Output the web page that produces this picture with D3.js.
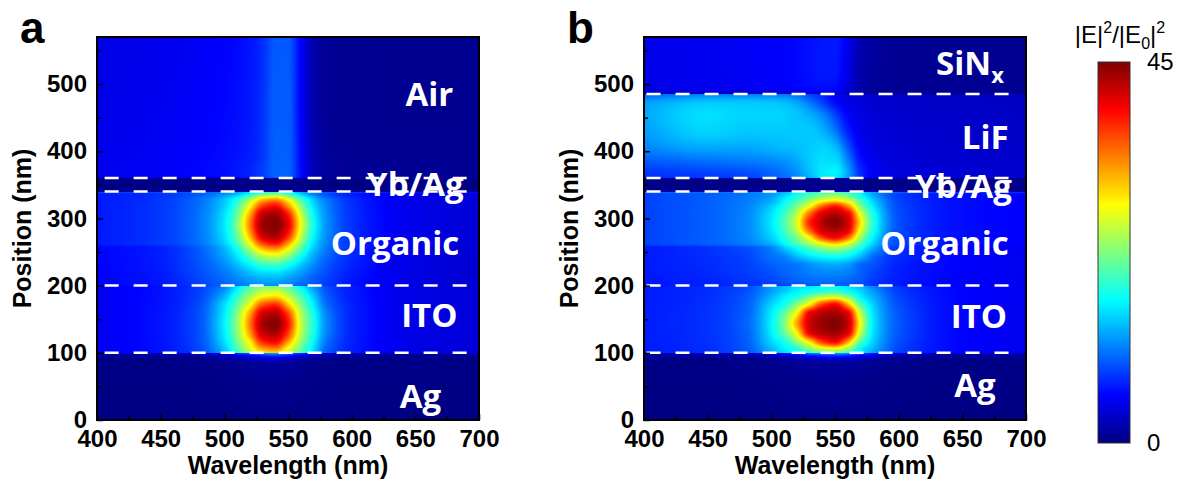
<!DOCTYPE html>
<html lang="en">
<head>
<meta charset="UTF-8">
<title>Field intensity maps</title>
<script src="https://cdn.jsdelivr.net/npm/d3@7"></script>
<style>
  html, body { margin: 0; padding: 0; background: #fff; }
  svg { display: block; }
  .axis text { font: bold 24px "Liberation Sans", Arial, sans-serif; fill: #000; }
  .axis path { display: none; }
  .axis line { stroke: #000; stroke-width: 1.5; }
  .title { font: bold 25px "Liberation Sans", Arial, sans-serif; fill: #000; }
  .panel-tag { font: bold 44px "Liberation Sans", Arial, sans-serif; fill: #000; }
  .layer { font: bold 33px "Open Sans", sans-serif; fill: #fff; }
  .cb-text { font: 24px "Liberation Sans", Arial, sans-serif; fill: #000; }
  .divider { stroke: #fff; stroke-width: 2.5; stroke-dasharray: 14 15; }
</style>
</head>
<body>
<svg id="svg" width="1180" height="486"></svg>
<script>
// ---- data ----
// wavelength columns shared by every layer table (nm)
var wavelengths = [400, 450, 480, 500, 510, 520, 530, 540, 550, 560, 570, 580, 600, 650, 700];

// colour bar |E|^2/|E0|^2 (jet)
var cbStops = [0, 5.625, 16.875, 28.125, 39.375, 45];
var cbColors = ["#000080", "#0000ff", "#00ffff", "#ffff00", "#ff0000", "#800000"];
var cbTicks = [0, 45];

// panel a : rows (position, nm) of each layer and |E|^2/|E0|^2 read per wavelength column
var aAgZ = [0, 85, 95, 100];
var aAg = [
  [0.2, 0.2, 0.2, 0.2, 0.2, 0.2, 0.2, 0.2, 0.2, 0.2, 0.2, 0.2, 0.2, 0.2, 0.2],
  [0.3, 0.3, 0.4, 0.6, 0.8, 1, 1.2, 1.3, 1.1, 0.8, 0.6, 0.4, 0.3, 0.3, 0.3],
  [1, 1, 1.3, 2.5, 3.5, 5, 6.5, 7, 6, 4, 2.5, 1.5, 1, 0.8, 0.8],
  [2.5, 3, 4, 6.5, 8.5, 11, 13, 14, 12, 8.5, 6, 4.5, 3, 2.5, 2.5]
];
var aItoZ = [100, 104, 115, 128, 143, 158, 172, 185, 195, 200];
var aIto = [
  [5.05, 6.35, 8.6, 13.6, 18.9, 24.2, 28.8, 29.9, 25.8, 20.3, 14.7, 9.8, 6.9, 4.5, 4],
  [5.05, 6.35, 8.65, 14.1, 19.6, 25.8, 31, 32.4, 26.9, 21.1, 15.3, 9.9, 6.9, 4.5, 4],
  [5.05, 6.4, 8.9, 15.3, 21.3, 28.2, 37.2, 39, 31.8, 23.2, 16.6, 10.7, 7, 4.5, 4],
  [5.05, 6.45, 9.1, 16.1, 22.7, 32.1, 41.4, 42.9, 36.6, 25.1, 17.7, 11.5, 7.1, 4.5, 4],
  [5.05, 6.45, 9.1, 16.5, 23.3, 33.8, 43.3, 44.85, 38.8, 25.9, 18.2, 11.8, 7.1, 4.5, 4],
  [5.05, 6.45, 9.1, 16.1, 22.7, 32.1, 41.4, 42.9, 36.6, 25.1, 17.7, 11.5, 7.1, 4.5, 4],
  [5.05, 6.4, 8.8, 15.4, 20.8, 27.4, 35.5, 37.3, 30.6, 22.6, 16.2, 10.5, 7, 4.5, 4],
  [5.05, 6.3, 8.55, 13.4, 18.6, 23.7, 27.7, 28.9, 25.2, 19.9, 14.5, 9.8, 6.8, 4.5, 4],
  [5.05, 6.3, 8.4, 11.9, 16.5, 20.8, 23.8, 24.4, 21.7, 17.6, 12.9, 9.2, 6.8, 4.5, 4],
  [5.05, 6.25, 8.3, 11.1, 15.5, 19.4, 21.9, 22.3, 20.2, 16.3, 12, 9.1, 6.8, 4.5, 4]
];
var aOrgZ = [200, 215, 230, 245, 257, 262, 275, 291, 305, 318, 328, 336, 340];
var aOrg = [
  [5.6, 6.55, 8.3, 9.9, 10.7, 11.3, 11.9, 11.9, 11.3, 10.1, 9.2, 8.1, 6.4, 4.4, 3.6],
  [5.6, 6.7, 8.8, 10.7, 12, 13.4, 14.4, 14.6, 13.5, 12, 10.1, 8.8, 6.7, 4.4, 3.6],
  [5.6, 6.85, 9.15, 11.7, 13.8, 16.3, 18.8, 19.2, 17.4, 14.4, 11.7, 9.5, 7.1, 4.45, 3.6],
  [5.65, 6.95, 9.5, 13, 16.1, 20.8, 25.5, 26.9, 23.5, 17.9, 13.3, 10.4, 7.4, 4.45, 3.6],
  [5.65, 7, 9.7, 13.8, 18.2, 25.2, 32.5, 34.7, 29.4, 21.4, 14.9, 11.2, 7.6, 4.45, 3.6],
  [6.65, 8.05, 10.5, 14.8, 19.5, 27.3, 35.8, 38.4, 32.2, 22.9, 15.4, 11.5, 7.6, 4.65, 3.8],
  [6.65, 8.1, 10.7, 15.6, 21.4, 31.4, 41.7, 43.5, 38.1, 26.1, 16.9, 12, 7.75, 4.65, 3.8],
  [6.6, 8.1, 10.8, 16, 22.5, 33.8, 43.6, 44.8, 40.5, 27.8, 17.6, 12.2, 7.8, 4.7, 3.8],
  [6.65, 8.1, 10.7, 15.7, 21.6, 32, 42.4, 43.8, 38.6, 26.5, 17, 12, 7.75, 4.65, 3.8],
  [6.65, 8.05, 10.55, 14.9, 19.7, 28, 37, 39.4, 33.2, 23.4, 15.7, 11.6, 7.65, 4.65, 3.8],
  [6.65, 8, 10.4, 14.3, 18, 24.2, 30.8, 33, 28, 20.5, 14.5, 11, 7.5, 4.65, 3.8],
  [6.6, 7.75, 9.5, 12, 14.1, 17.4, 21.2, 22.4, 19.4, 14.95, 11.4, 9.1, 6.7, 4.55, 3.8],
  [9.5, 9.5, 10, 11, 12.5, 15, 17, 17.5, 16.5, 13, 11, 10, 9, 8, 7.5]
];
var aYbZ = [340, 342, 358, 360];
var aYb = [
  [2, 2, 2, 2.2, 2.4, 2.8, 3.1, 3.2, 3.1, 2.8, 2.4, 2, 2, 1.8, 1.8],
  [0.3, 0.3, 0.3, 0.3, 0.35, 0.4, 0.45, 0.5, 0.45, 0.4, 0.3, 0.3, 0.3, 0.3, 0.3],
  [0.3, 0.3, 0.3, 0.3, 0.35, 0.4, 0.45, 0.5, 0.45, 0.4, 0.3, 0.3, 0.3, 0.3, 0.3],
  [1, 1, 1, 1.2, 1.4, 1.6, 1.8, 2, 1.9, 1.5, 1.1, 0.8, 0.6, 0.6, 0.6]
];
var aAirZ = [360, 365, 400, 480, 570];
var aAir = [
  [4, 4.3, 4.8, 5.3, 5.8, 6.8, 8, 9.5, 9.5, 5.8, 2.5, 1.5, 1, 0.9, 0.9],
  [5, 5.3, 5.8, 6.2, 6.6, 7.2, 8.3, 10, 10, 6, 2.5, 1.5, 1, 0.9, 0.9],
  [4.8, 5.2, 5.6, 6, 6.3, 6.8, 7.9, 9.8, 9.8, 5.8, 2.3, 1.2, 0.9, 0.8, 0.8],
  [4.6, 5, 5.4, 5.8, 6.1, 6.6, 7.7, 9.7, 9.7, 5.5, 2, 1, 0.8, 0.7, 0.7],
  [4.5, 4.8, 5.2, 5.6, 5.9, 6.4, 7.5, 9.5, 9.5, 5.5, 2, 1, 0.8, 0.7, 0.7]
];

// panel b
var bAgZ = [0, 85, 95, 100];
var bAg = [
  [0.2, 0.2, 0.2, 0.2, 0.2, 0.2, 0.2, 0.2, 0.2, 0.2, 0.2, 0.2, 0.2, 0.2, 0.2],
  [0.3, 0.3, 0.4, 0.6, 0.7, 0.9, 1.1, 1.2, 1.3, 1.2, 1, 0.8, 0.5, 0.3, 0.3],
  [1, 1, 1.3, 2.2, 3, 4, 5.5, 6.5, 7, 6.5, 5, 3.5, 2, 1, 1],
  [3, 3.3, 4, 6, 7, 9, 12, 13.5, 14, 13, 10, 8, 5, 3.3, 3]
];
var bItoZ = [100, 104, 116, 130, 144, 158, 172, 184, 193, 200];
var bIto = [
  [6.7, 7.6, 9.2, 13, 15.6, 17, 18.9, 21.6, 22.4, 19.6, 16.3, 12.8, 8.4, 5.7, 5],
  [6.7, 7.6, 9.4, 13.5, 16.1, 17.7, 21.5, 24.4, 25.3, 22.2, 16.4, 13.4, 8.6, 5.7, 5],
  [6.75, 7.7, 9.6, 15, 17.7, 22.9, 28.9, 36.6, 39.4, 31.9, 20.6, 14.7, 9, 5.7, 5],
  [6.8, 7.8, 9.8, 16.2, 21.2, 28.5, 40.3, 42.9, 43.5, 40.8, 25.7, 15.7, 9.4, 5.7, 5],
  [6.8, 7.8, 10, 16.5, 22.3, 32.1, 41.6, 44, 45, 42.4, 27.6, 16.05, 9.5, 5.7, 5],
  [6.8, 7.8, 9.8, 16.2, 21.2, 28.5, 40.3, 42.9, 43.5, 40.8, 25.7, 15.7, 9.4, 5.7, 5],
  [6.75, 7.7, 9.6, 15, 17.7, 22.9, 28.9, 36.6, 39.4, 31.9, 20.6, 14.7, 9, 5.7, 5],
  [6.7, 7.6, 9.4, 13.5, 16.1, 17.7, 21.5, 24.4, 25.3, 22.2, 16.4, 13.4, 8.6, 5.7, 5],
  [6.7, 7.6, 9, 12.5, 14.3, 16.2, 17.1, 18, 18.7, 16.9, 14.9, 12.2, 8.2, 5.7, 5],
  [6.7, 7.5, 8.8, 12.3, 13.8, 15, 15.85, 16.3, 16.35, 15.55, 13.6, 11.2, 7.8, 5.65, 5]
];
var bOrgZ = [200, 215, 230, 242, 252, 257, 262, 272, 282, 294, 306, 318, 328, 336, 340];
var bOrg = [
  [6.5, 7, 7.6, 8.2, 8.7, 9.1, 9.5, 9.7, 9.7, 9.4, 8.7, 7.8, 6.5, 5.4, 5],
  [6.6, 7.3, 8.1, 9, 9.8, 10.4, 10.9, 11.2, 11.2, 10.8, 9.8, 8.4, 6.9, 5.55, 5],
  [6.65, 7.5, 8.35, 9.7, 10.4, 10.8, 11.8, 12.7, 13, 12.3, 10.1, 9.1, 7, 5.6, 5],
  [6.7, 7.6, 8.5, 10.5, 11.2, 13.5, 15.4, 16.5, 17.1, 16, 13.5, 10.1, 7.4, 5.6, 5],
  [6.7, 7.7, 8.9, 11, 13.4, 16.1, 18.8, 20.8, 21.9, 20.2, 16.3, 12.3, 7.8, 5.6, 5],
  [6.7, 7.7, 9.1, 11.2, 14.5, 17.3, 20.6, 23.8, 25.1, 23.1, 18.1, 13.3, 8, 5.6, 5],
  [8.5, 9.8, 11.1, 13.5, 16.5, 20, 23.7, 27.3, 29.9, 26.5, 20.3, 14.8, 8.6, 6.1, 5.5],
  [8.5, 9.8, 11.4, 14.8, 18.1, 22.5, 28.6, 36.9, 39.8, 35.4, 24, 16.4, 8.9, 6.1, 5.5],
  [8.5, 9.8, 11.5, 15.7, 19.5, 25.3, 34.9, 41.2, 42.7, 40.4, 27.2, 17.9, 9, 6.1, 5.5],
  [8.5, 9.8, 11.6, 16, 20.2, 26.5, 37.9, 42.5, 44.8, 41.6, 29.4, 18.6, 9.1, 6.1, 5.5],
  [8.5, 9.8, 11.5, 15.7, 19.5, 25.3, 34.9, 41.2, 42.7, 40.4, 27.2, 17.9, 9, 6.1, 5.5],
  [8.5, 9.8, 11.3, 14.6, 17.9, 22.1, 28, 35.2, 38.6, 33.5, 23, 16.1, 8.8, 6.1, 5.5],
  [8.5, 9.75, 11.1, 13.1, 16.2, 19.3, 22.8, 26.1, 27.6, 25.3, 19.5, 14.5, 8.5, 6.1, 5.5],
  [8.5, 9.7, 10.75, 12.4, 14.5, 17.1, 19.6, 21.4, 22.4, 20.7, 16.8, 12.8, 8.2, 6.1, 5.5],
  [11, 11, 11.5, 12.5, 13.5, 15, 17, 19, 19.5, 19, 16, 13, 11, 9.5, 9]
];
var bYbZ = [340, 342, 358, 360];
var bYb = [
  [2.5, 2.5, 2.5, 2.8, 2.9, 3.1, 3.3, 3.6, 3.8, 3.6, 3.2, 3, 2.5, 2, 2],
  [0.4, 0.4, 0.4, 0.4, 0.45, 0.5, 0.55, 0.6, 0.6, 0.55, 0.5, 0.4, 0.4, 0.4, 0.4],
  [0.4, 0.4, 0.4, 0.4, 0.45, 0.5, 0.55, 0.6, 0.6, 0.55, 0.5, 0.4, 0.4, 0.4, 0.4],
  [1.5, 1.6, 1.7, 1.9, 2, 2.3, 2.7, 3, 3.2, 2.8, 2, 1.2, 1, 0.9, 0.9]
];
var bLifZ = [360, 368, 385, 405, 430, 455, 472, 485];
var bLif = [
  [7.5, 8, 8.5, 9.5, 10.3, 11.5, 13.5, 15.5, 16, 12.5, 7.5, 5.2, 4.3, 3.8, 3.6],
  [8, 8.5, 9, 10, 10.8, 12, 14, 16, 16.5, 13, 7.5, 5.2, 4.2, 3.7, 3.5],
  [9.5, 10.5, 11, 11.5, 12, 13, 14.5, 15.5, 15.5, 11.5, 6.5, 4.8, 4, 3.5, 3.3],
  [11.5, 13, 13, 13.5, 13.8, 14, 14.5, 15, 14, 9.5, 5.5, 4.3, 3.8, 3.4, 3.2],
  [12.5, 15, 14.5, 14.5, 14.5, 14.5, 14.5, 13.5, 11, 7, 4.8, 4, 3.6, 3.3, 3.1],
  [13, 15.5, 15, 15, 14.8, 14.3, 13.3, 11.5, 8.5, 5.5, 4.3, 3.8, 3.5, 3.2, 3],
  [12.5, 14.5, 14.5, 14.3, 14, 13, 11, 8.5, 6, 4.6, 4, 3.6, 3.4, 3.1, 3],
  [9.5, 11, 11, 11, 10.8, 10, 8.5, 7, 5.2, 4.2, 3.8, 3.5, 3.2, 3, 3]
];
var bSinZ = [485, 492, 530, 570];
var bSin = [
  [2, 2, 2, 2.2, 2.2, 2.4, 2.5, 2.5, 2.4, 1.8, 1, 0.8, 0.6, 0.6, 0.6],
  [4.5, 4.8, 5, 5.2, 5.3, 5.6, 5.8, 6, 5.8, 4, 1.8, 1.2, 0.9, 0.8, 0.8],
  [4.8, 5, 5.2, 5.5, 5.6, 5.9, 6.2, 6.6, 6.6, 4.5, 2, 1.3, 0.9, 0.8, 0.8],
  [4.8, 5, 5.2, 5.5, 5.6, 5.9, 6.2, 6.6, 6.8, 5, 2.2, 1.5, 1, 0.8, 0.8]
];

// interface positions (dashed lines) and layer names
var dividersA = [100, 200, 340, 360];
var dividersB = [100, 200, 340, 360, 485];
var namesA = ["Air", "Yb/Ag", "Organic", "ITO", "Ag"];
var namesB = ["SiN", "LiF", "Yb/Ag", "Organic", "ITO", "Ag"];

var xTicks = [400, 450, 500, 550, 600, 650, 700];
var xMinor = [425, 475, 525, 575, 625, 675];
var yTicks = [0, 100, 200, 300, 400, 500];
var yMinor = [50, 150, 250, 350, 450, 550];

// ---- layout ----
var plotTop = 37, plotBottom = 420, plotW = 382;
var svg = d3.select("#svg");

var color = d3.scaleLinear().domain(cbStops).range(cbColors).clamp(true);
var lut = d3.range(0, 451).map(function(i){ return d3.rgb(color(i / 10)); });

var layersA = [
  {z: aAgZ, v: aAg}, {z: aItoZ, v: aIto}, {z: aOrgZ, v: aOrg},
  {z: aYbZ, v: aYb}, {z: aAirZ, v: aAir}
];
var layersB = [
  {z: bAgZ, v: bAg}, {z: bItoZ, v: bIto}, {z: bOrgZ, v: bOrg},
  {z: bYbZ, v: bYb}, {z: bLifZ, v: bLif}, {z: bSinZ, v: bSin}
];

// monotone cubic between table entries (no overshoot), same idea as curveMonotoneX
function slopeAt(xs, ys, k){
  var n = xs.length;
  if (k === 0) return (ys[1] - ys[0]) / (xs[1] - xs[0]);
  if (k === n - 1) return (ys[n - 1] - ys[n - 2]) / (xs[n - 1] - xs[n - 2]);
  var h0 = xs[k] - xs[k - 1], h1 = xs[k + 1] - xs[k];
  var d0 = (ys[k] - ys[k - 1]) / h0, d1 = (ys[k + 1] - ys[k]) / h1;
  if (d0 * d1 <= 0) return 0;
  var w1 = 2 * h1 + h0, w2 = h1 + 2 * h0;
  return (w1 + w2) / (w1 / d0 + w2 / d1);
}
function smoothAt(xs, ys, xv){
  var n = xs.length;
  if (xv <= xs[0]) return ys[0];
  if (xv >= xs[n - 1]) return ys[n - 1];
  var i = Math.min(n - 2, d3.bisectRight(xs, xv) - 1);
  var h = xs[i + 1] - xs[i], t = (xv - xs[i]) / h, t2 = t * t, t3 = t2 * t;
  return (2 * t3 - 3 * t2 + 1) * ys[i] + (t3 - 2 * t2 + t) * h * slopeAt(xs, ys, i)
       + (-2 * t3 + 3 * t2) * ys[i + 1] + (t3 - t2) * h * slopeAt(xs, ys, i + 1);
}

function drawPanel(left, layers, dividers, names, namePos, dashFrom, tag){
  var x = d3.scaleLinear().domain([400, 700]).range([left, left + plotW]);
  var y = d3.scaleLinear().domain([0, 570]).range([plotBottom, plotTop]);
  var g = svg.append("g");

  // each table row resampled along wavelength once
  var w = plotW, h = plotBottom - plotTop;
  var wl = d3.range(w).map(function(px){ return x.invert(left + px + 0.5); });
  layers.forEach(function(L){
    L.cols = wl.map(function(lam){
      return L.v.map(function(row){ return smoothAt(wavelengths, row, lam); });
    });
  });

  // heat map
  var canvas = document.createElement("canvas");
  canvas.width = w; canvas.height = h;
  var ctx = canvas.getContext("2d");
  var img = ctx.createImageData(w, h);
  for (var py = 0; py < h; py++){
    var z = y.invert(plotTop + py + 0.5);
    var L = layers.find(function(l){ return z < l.z[l.z.length - 1]; }) || layers[layers.length - 1];
    for (var px = 0; px < w; px++){
      var val = smoothAt(L.z, L.cols[px], z);
      var c = lut[Math.max(0, Math.min(450, Math.round(val * 10)))];
      var o = (py * w + px) * 4;
      img.data[o] = c.r; img.data[o + 1] = c.g; img.data[o + 2] = c.b; img.data[o + 3] = 255;
    }
  }
  ctx.putImageData(img, 0, 0);
  g.append("image")
    .attr("x", left).attr("y", plotTop)
    .attr("width", w).attr("height", h)
    .attr("href", canvas.toDataURL());

  // layer names
  g.selectAll(".layer").data(names).enter().append("text")
    .attr("class", "layer")
    .attr("text-anchor", "middle")
    .attr("x", function(d, i){ return x(namePos[i][0]); })
    .attr("y", function(d, i){ return y(namePos[i][1]); })
    .each(function(d){
      var t = d3.select(this);
      t.text(d);
      if (d === "SiN") t.append("tspan").attr("dy", 8).attr("font-size", 22).text("x");
    });

  // interfaces
  g.selectAll(".divider").data(dividers).enter().append("line")
    .attr("class", "divider")
    .attr("x1", x(dashFrom)).attr("x2", x(691))
    .attr("y1", function(d){ return y(d); })
    .attr("y2", function(d){ return y(d); });

  // axes
  g.append("g").attr("class", "axis")
    .attr("transform", "translate(0," + plotBottom + ")")
    .call(d3.axisBottom(x).tickValues(xTicks).tickSize(-6).tickPadding(10));
  g.append("g").attr("class", "axis")
    .attr("transform", "translate(0," + plotBottom + ")")
    .call(d3.axisBottom(x).tickValues(xMinor).tickSize(-4).tickFormat(""));
  g.append("g").attr("class", "axis")
    .attr("transform", "translate(" + left + ",0)")
    .call(d3.axisLeft(y).tickValues(yTicks).tickSize(-6).tickPadding(10));
  g.append("g").attr("class", "axis")
    .attr("transform", "translate(" + left + ",0)")
    .call(d3.axisLeft(y).tickValues(yMinor).tickSize(-4).tickFormat(""));

  g.append("rect")
    .attr("x", left).attr("y", plotTop)
    .attr("width", plotW).attr("height", plotBottom - plotTop)
    .attr("fill", "none").attr("stroke", "#000").attr("stroke-width", 2);

  g.append("text").attr("class", "title")
    .attr("text-anchor", "middle")
    .attr("x", left + plotW / 2).attr("y", 474)
    .text("Wavelength (nm)");
  g.append("text").attr("class", "title")
    .attr("text-anchor", "middle")
    .attr("transform", "translate(" + (left - 66) + "," + ((plotTop + plotBottom) / 2) + ") rotate(-90)")
    .text("Position (nm)");

  g.append("text").attr("class", "panel-tag")
    .attr("x", left - 77).attr("y", 43)
    .text(tag);
}

drawPanel(97, layersA, dividersA, namesA,
  [[661, 468], [650, 333], [634, 245], [661, 138], [654, 18]], 406, "a");
drawPanel(644, layersB, dividersB, namesB,
  [[656, 514], [668, 403], [651, 331], [636, 245], [663, 137], [660, 34]], 402, "b");

// colour bar
var cbX = 1098, cbW = 32, cbTop = 62, cbBottom = 443;
var cbScale = d3.scaleLinear().domain([0, 45]).range([cbBottom, cbTop]);
var grad = svg.append("defs").append("linearGradient")
  .attr("id", "jet").attr("x1", 0).attr("y1", 1).attr("x2", 0).attr("y2", 0);
grad.selectAll("stop").data(cbStops).enter().append("stop")
  .attr("offset", function(d){ return d / 45; })
  .attr("stop-color", function(d, i){ return cbColors[i]; });
svg.append("rect")
  .attr("x", cbX).attr("y", cbTop)
  .attr("width", cbW).attr("height", cbBottom - cbTop)
  .attr("fill", "url(#jet)").attr("stroke", "#333").attr("stroke-width", 1);
svg.selectAll(".cb-tick").data(cbTicks).enter().append("text")
  .attr("class", "cb-text")
  .attr("x", 1147)
  .attr("y", function(d){ return cbScale(d) + 8; })
  .text(function(d){ return d; });

var cbt = svg.append("text").attr("class", "cb-text")
  .attr("x", 1120).attr("y", 43).attr("text-anchor", "middle");
cbt.append("tspan").text("|E|");
cbt.append("tspan").attr("dy", -10).attr("font-size", 16).text("2");
cbt.append("tspan").attr("dy", 10).text("/|E");
cbt.append("tspan").attr("dy", 6).attr("font-size", 16).text("0");
cbt.append("tspan").attr("dy", -6).text("|");
cbt.append("tspan").attr("dy", -10).attr("font-size", 16).text("2");
</script>
</body>
</html>
